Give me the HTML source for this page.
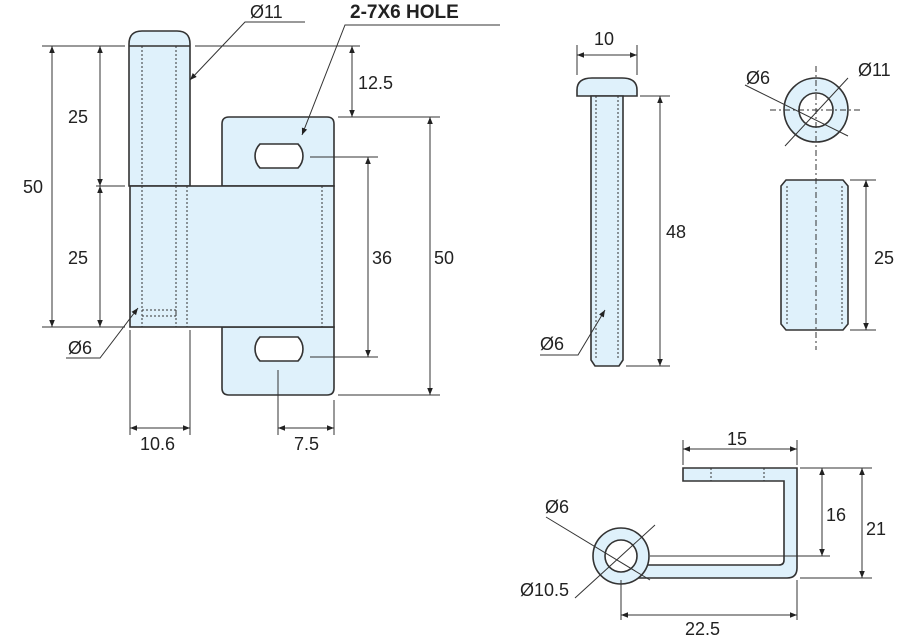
<!DOCTYPE html><html><head><style>body{margin:0;background:#fff}svg{display:block}text{font-family:"Liberation Sans",sans-serif;font-size:18px;fill:#222}</style></head><body>
<svg width="900" height="637" viewBox="0 0 900 637" xmlns="http://www.w3.org/2000/svg">
<defs><marker id="a" viewBox="0 0 10 10" refX="10" refY="5" markerWidth="7" markerHeight="7" orient="auto-start-reverse"><path d="M0,1L10,5L0,9z" fill="#222"/></marker></defs>
<g stroke="#333" stroke-width="1.6" fill="#dff1fb">
<path d="M129,186V44Q129,31 142,31H177Q190,31 190,44V186Z"/>
<line x1="129" y1="46" x2="190" y2="46"/>
<path d="M222,186V124Q222,117 229,117H327Q334,117 334,124V186Z"/>
<path d="M222,327V388Q222,395 229,395H327Q334,395 334,388V327Z"/>
<rect x="130" y="186" width="204" height="141"/>
<path d="M260,144H298A17,17 0 0 1 298,168H260A17,17 0 0 1 260,144Z" fill="#fff"/>
<path d="M260,337H298A17,17 0 0 1 298,361H260A17,17 0 0 1 260,337Z" fill="#fff"/>
<path d="M577,96V90Q577,78 592,78H622Q637,78 637,90V96Z"/>
<path d="M591,96H623V360L619,366H595L591,360Z"/>
<circle cx="816" cy="110" r="32"/><circle cx="816" cy="110" r="17" fill="#fff"/>
<path d="M781,186L786,180H843L848,186V324L843,330H786L781,324Z"/>
<path d="M683,468H797V568Q797,578 787,578H621V565H779Q784,565 784,560V481H683Z"/>
<circle cx="621" cy="556" r="28"/><circle cx="621" cy="556" r="16" fill="#fff"/>
</g>
<g stroke="#333" stroke-width="1" stroke-dasharray="2,2" fill="none">
<line x1="142" y1="46" x2="142" y2="327"/><line x1="176" y1="46" x2="176" y2="327"/><line x1="187" y1="186" x2="187" y2="327"/><line x1="322" y1="186" x2="322" y2="327"/>
<path d="M142,310H176V316H142"/>
<line x1="596" y1="96" x2="596" y2="360"/><line x1="618" y1="96" x2="618" y2="360"/>
<line x1="787" y1="186" x2="787" y2="324"/><line x1="842" y1="186" x2="842" y2="324"/>
<line x1="711" y1="468" x2="711" y2="481"/><line x1="764" y1="468" x2="764" y2="481"/>
<line x1="816" y1="66" x2="816" y2="350" stroke-dasharray="6,3,2,3"/><line x1="770" y1="110" x2="862" y2="110" stroke-dasharray="6,3,2,3"/>
</g>
<g stroke="#333" stroke-width="1" fill="none">
<path d="M42,46H125M96,186H125M42,327H125M195,46H360M338,117H440M310,157H378M310,357H378M338,395H440"/>
<path d="M130,330V435M190,330V435M278,370V435M334,400V435"/>
<path d="M577,75V45M637,75V45M640,96H670M626,366H670"/>
<path d="M850,180H876M850,330H876M800,468H872M650,556H830M800,578H872M621,580V620M797,580V620M683,465V440M797,465V440"/>
<line x1="52" y1="46" x2="52" y2="327" marker-start="url(#a)" marker-end="url(#a)"/>
<line x1="100" y1="46" x2="100" y2="186" marker-start="url(#a)" marker-end="url(#a)"/>
<line x1="100" y1="186" x2="100" y2="327" marker-start="url(#a)" marker-end="url(#a)"/>
<line x1="352" y1="46" x2="352" y2="117" marker-start="url(#a)" marker-end="url(#a)"/>
<line x1="368" y1="157" x2="368" y2="357" marker-start="url(#a)" marker-end="url(#a)"/>
<line x1="430" y1="117" x2="430" y2="395" marker-start="url(#a)" marker-end="url(#a)"/>
<line x1="130" y1="428" x2="190" y2="428" marker-start="url(#a)" marker-end="url(#a)"/>
<line x1="278" y1="428" x2="334" y2="428" marker-start="url(#a)" marker-end="url(#a)"/>
<line x1="577" y1="55" x2="637" y2="55" marker-start="url(#a)" marker-end="url(#a)"/>
<line x1="660" y1="96" x2="660" y2="366" marker-start="url(#a)" marker-end="url(#a)"/>
<line x1="866" y1="180" x2="866" y2="330" marker-start="url(#a)" marker-end="url(#a)"/>
<line x1="683" y1="449" x2="797" y2="449" marker-start="url(#a)" marker-end="url(#a)"/>
<line x1="822" y1="468" x2="822" y2="556" marker-start="url(#a)" marker-end="url(#a)"/>
<line x1="862" y1="468" x2="862" y2="578" marker-start="url(#a)" marker-end="url(#a)"/>
<line x1="621" y1="615" x2="797" y2="615" marker-start="url(#a)" marker-end="url(#a)"/>
<polyline points="305,22 245,22 190,80" marker-end="url(#a)"/>
<polyline points="500,25 345,25 302,135" marker-end="url(#a)"/>
<polyline points="66,358 100,358 138,308" marker-end="url(#a)"/>
<polyline points="540,355 578,355 605,310" marker-end="url(#a)"/>
<line x1="745" y1="85" x2="848" y2="136"/><line x1="785" y1="146" x2="848" y2="78"/>
<line x1="546" y1="517" x2="650" y2="580"/><line x1="575" y1="598" x2="655" y2="525"/>
</g>
<text x="250" y="18">Ø11</text>
<text x="350" y="18" style="font-weight:bold;font-size:19px">2-7X6 HOLE</text>
<text x="23" y="193">50</text><text x="68" y="123">25</text><text x="68" y="264">25</text>
<text x="358" y="89">12.5</text><text x="372" y="264">36</text><text x="434" y="264">50</text>
<text x="140" y="450">10.6</text><text x="294" y="450">7.5</text><text x="68" y="354">Ø6</text>
<text x="594" y="45">10</text><text x="666" y="238">48</text><text x="540" y="350">Ø6</text>
<text x="746" y="84">Ø6</text><text x="858" y="76">Ø11</text><text x="874" y="264">25</text>
<text x="727" y="445">15</text><text x="826" y="521">16</text><text x="866" y="535">21</text>
<text x="545" y="513">Ø6</text><text x="520" y="596">Ø10.5</text><text x="685" y="635">22.5</text>
</svg></body></html>
